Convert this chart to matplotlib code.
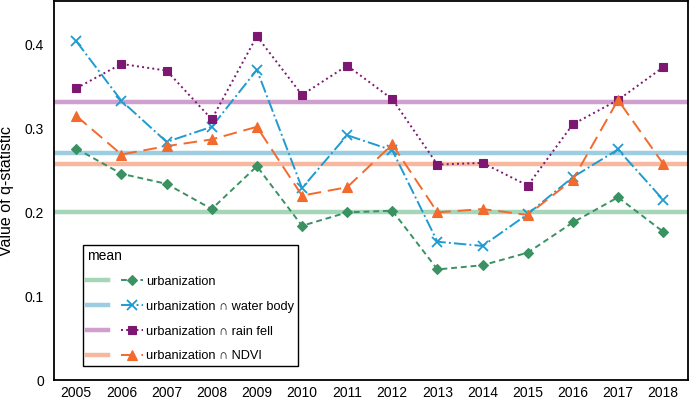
import matplotlib
matplotlib.use("Agg")
import matplotlib.pyplot as plt
from matplotlib.legend_handler import HandlerTuple

years = [2005, 2006, 2007, 2008, 2009, 2010, 2011, 2012, 2013, 2014, 2015, 2016, 2017, 2018]

urban = [0.276, 0.246, 0.234, 0.204, 0.255, 0.184, 0.200, 0.202, 0.132, 0.137, 0.152, 0.188, 0.218, 0.177]
water = [0.404, 0.333, 0.284, 0.302, 0.370, 0.229, 0.292, 0.274, 0.165, 0.160, 0.198, 0.242, 0.275, 0.215]
rain = [0.348, 0.377, 0.369, 0.311, 0.410, 0.340, 0.375, 0.335, 0.257, 0.259, 0.232, 0.305, 0.334, 0.373]
ndvi = [0.315, 0.269, 0.279, 0.287, 0.302, 0.220, 0.230, 0.281, 0.200, 0.204, 0.197, 0.239, 0.334, 0.258]

mean_values = [0.200, 0.271, 0.331, 0.258]
labels = ["urbanization", "urbanization \u2229 water body",
          "urbanization \u2229 rain fell", "urbanization \u2229 NDVI"]

plt.rcParams["font.family"] = ["Liberation Sans", "DejaVu Sans"]

fig = plt.figure(figsize=(6.89, 4.01), dpi=100)
ax = fig.add_axes([0.078, 0.052, 0.9205, 0.9455])

mean_colors = ["#a6d6b8", "#9ccde0", "#cfa0cd", "#f8b8a0"]
series = [
    (urban, "#3a9263", "D", 5, (0, (3, 2))),
    (water, "#1f9bd1", "x", 7.5, "-."),
    (rain, "#7d1872", "s", 5.5, ":"),
    (ndvi, "#f26a2c", "^", 7, (0, (7, 3.5))),
]

handles = []
for mv, mc, (vals, c, m, ms, ls) in zip(mean_values, mean_colors, series):
    mh = ax.axhline(mv, color=mc, lw=3.2, zorder=1)
    sh, = ax.plot(years, vals, color=c, marker=m, markersize=ms, ls=ls, lw=1.4,
                  markeredgewidth=1.3 if m == "x" else 0.8, zorder=3)
    handles.append((mh, sh))

ax.set_xlim(2004.5, 2018.55)
ax.set_ylim(0, 0.452)
ax.set_xticks(years)
ax.set_yticks([0, 0.1, 0.2, 0.3, 0.4])
ax.set_yticklabels(["0", "0.1", "0.2", "0.3", "0.4"])
ax.tick_params(length=0, labelsize=10)
ax.tick_params(axis="x", pad=4)
ax.tick_params(axis="y", pad=7)
ax.set_ylabel("Value of q-statistic", fontsize=11.5, labelpad=8)
for s in ax.spines.values():
    s.set_linewidth(1.3)

leg = ax.legend(handles, labels, title="mean", loc="lower left",
                bbox_to_anchor=(0.046, 0.037), borderaxespad=0,
                handler_map={tuple: HandlerTuple(ndivide=None, pad=1.0)},
                handlelength=4.4, handletextpad=0.25, numpoints=1,
                fontsize=9.2, title_fontsize=10, fancybox=False,
                edgecolor="black", framealpha=1, labelspacing=1.0,
                alignment="left", borderpad=0.3)
leg.get_frame().set_linewidth(1.0)

fig.savefig("out.png", dpi=100)
